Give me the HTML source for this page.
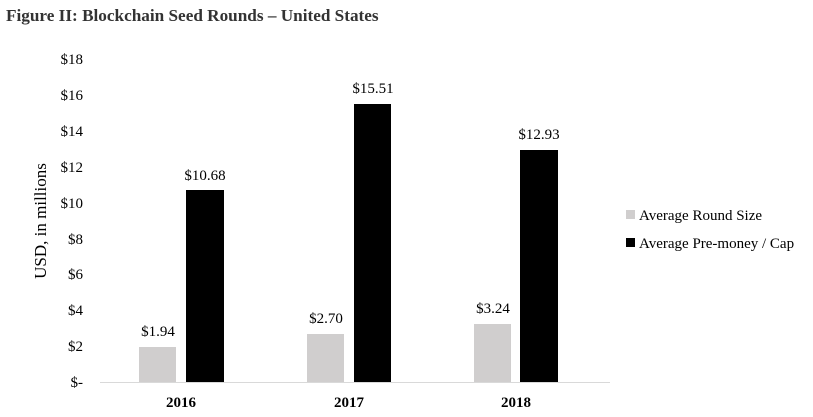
<!DOCTYPE html>
<html><head><style>body{margin:0;background:#fff}svg{display:block}</style></head><body>
<svg width="813" height="417" xmlns="http://www.w3.org/2000/svg" font-family="Liberation Serif, serif">
<rect width="813" height="417" fill="#fff"/>
<text x="6" y="21" font-size="17.2" font-weight="bold" fill="#333">Figure II: Blockchain Seed Rounds – United States</text>
<g font-size="15" fill="#000" text-anchor="end">
<text x="83" y="64">$18</text>
<text x="83" y="100">$16</text>
<text x="83" y="136">$14</text>
<text x="83" y="172">$12</text>
<text x="83" y="208">$10</text>
<text x="83" y="244">$8</text>
<text x="83" y="279">$6</text>
<text x="83" y="315">$4</text>
<text x="83" y="351">$2</text>
<text x="83" y="387">$-</text>
</g>
<text transform="translate(46,221) rotate(-90)" font-size="17" text-anchor="middle">USD, in millions</text>
<line x1="100" y1="382.5" x2="610" y2="382.5" stroke="#d9d9d9" stroke-width="1"/>
<rect x="139" y="347" width="37" height="35" fill="#d0cece"/>
<rect x="186" y="190" width="38" height="192" fill="#000"/>
<rect x="307" y="334" width="37" height="48" fill="#d0cece"/>
<rect x="354" y="104" width="37" height="278" fill="#000"/>
<rect x="474" y="324" width="37" height="58" fill="#d0cece"/>
<rect x="520" y="150" width="38" height="232" fill="#000"/>
<g font-size="15" text-anchor="middle">
<text x="158" y="336">$1.94</text>
<text x="205" y="180">$10.68</text>
<text x="326" y="323">$2.70</text>
<text x="373" y="93">$15.51</text>
<text x="493" y="313">$3.24</text>
<text x="539" y="139">$12.93</text>
</g>
<g font-size="15" font-weight="bold" text-anchor="middle">
<text x="181" y="407">2016</text>
<text x="349" y="407">2017</text>
<text x="516" y="407">2018</text>
</g>
<rect x="626" y="210" width="9" height="9" fill="#d0cece"/>
<text x="639" y="220" font-size="15">Average Round Size</text>
<rect x="626" y="238" width="9" height="9" fill="#000"/>
<text x="639" y="248" font-size="15">Average Pre-money / Cap</text>
</svg>
</body></html>
